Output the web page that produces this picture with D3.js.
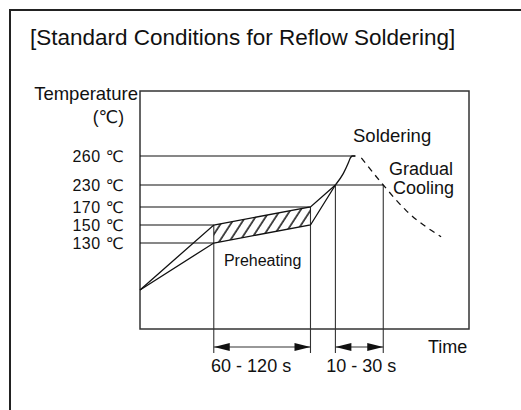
<!DOCTYPE html>
<head>
    <meta charset="utf-8">
    <title>Standard Conditions for Reflow Soldering</title>
    <script src="https://d3js.org/d3.v7.min.js"></script>
    <style>
        body { margin: 0; background: #fff; }
        text { font-family: "Liberation Sans", Arial, "DejaVu Sans", sans-serif; fill: #111; }
    </style>
</head>
<body>
    <div id="container"></div>
    <script>
        //----------------------------DATA----------------------------//
        var tempTicks = [130, 150, 170, 230, 260];
        var tempLabels = ["130 ℃", "150 ℃", "170 ℃", "230 ℃", "260 ℃"];
        var guideEnds = [74, 74, 171, 244, 216];          // time where each guide line stops
        var phaseTimes = [74, 171, 196, 244];             // preheat start / end, 230 reached / left
        var phaseTemps = [150, 170, 230, 230];            // top of each vertical marker
        var upperProfile = [[0, 25], [74, 150], [171, 170], [196, 230]];
        var lowerProfile = [[0, 25], [74, 130], [171, 150], [196, 230]];
        var peakProfile = [[196, 230], [204, 242], [209, 253], [211, 258], [213, 260], [216, 260]];
        var coolingProfile = [[222, 258], [244, 230], [267, 166], [302, 137]];
        var spans = [
            { from: 74, to: 171, label: "60 - 120 s" },
            { from: 196, to: 244, label: "10 - 30 s" }
        ];

        //----------------------------SVG-----------------------------//
        var W = 521, H = 410;
        var svg = d3.select("#container").append("svg")
            .attr("width", W).attr("height", H);

        // outer frame runs off the right and bottom edge
        svg.append("rect")
            .attr("x", 10).attr("y", 10).attr("width", 530).attr("height", 430)
            .attr("fill", "none").attr("stroke", "#222").attr("stroke-width", 2);

        svg.append("text")
            .attr("x", 30).attr("y", 45)
            .style("font-size", "22.5px")
            .text("[Standard Conditions for Reflow Soldering]");

        //---------------------------SCALES---------------------------//
        // schematic axis: temperature bands are not evenly spaced
        var x = d3.scaleLinear().domain([0, 330]).range([140, 469]);
        var y = d3.scaleLinear()
            .domain([0, 25, 130, 150, 170, 230, 260, 300])
            .range([329, 290, 243, 225, 207, 185, 156, 91]);

        var defs = svg.append("defs");
        var pat = defs.append("pattern")
            .attr("id", "hatch")
            .attr("patternUnits", "userSpaceOnUse")
            .attr("width", 8.5).attr("height", 8.5)
            .attr("patternTransform", "rotate(33)");
        pat.append("line")
            .attr("x1", 1).attr("y1", 0).attr("x2", 1).attr("y2", 8.5)
            .attr("stroke", "#000").attr("stroke-width", 1.4);

        ["arrowStart", "arrowEnd"].forEach(function (id, i) {
            defs.append("marker")
                .attr("id", id)
                .attr("markerUnits", "userSpaceOnUse")
                .attr("markerWidth", 17).attr("markerHeight", 10)
                .attr("refX", i ? 16 : 0).attr("refY", 5)
                .attr("orient", "auto")
                .append("path")
                .attr("d", i ? "M0,1L16,5L0,9Z" : "M16,1L0,5L16,9Z")
                .attr("fill", "#111");
        });

        //---------------------------FRAME----------------------------//
        svg.append("rect")
            .attr("x", x(0)).attr("y", y(300))
            .attr("width", x(330) - x(0)).attr("height", y(0) - y(300))
            .attr("fill", "none").attr("stroke", "#333").attr("stroke-width", 1.5);

        // temperature labels
        var yaxis = d3.axisLeft(y)
            .tickValues(tempTicks)
            .tickSize(0)
            .tickPadding(16)
            .tickFormat(function (d, i) { return tempLabels[i]; });
        var ga = svg.append("g")
            .attr("transform", "translate(" + x(0) + ",0)")
            .call(yaxis);
        ga.select(".domain").remove();
        ga.selectAll("text")
            .attr("dy", "0.36em")
            .style("font-size", "16px")
            .style("letter-spacing", "0.5px")
            .style("font-family", "'Liberation Sans', Arial, 'DejaVu Sans', sans-serif")
            .attr("fill", "#111");

        svg.append("text")
            .attr("x", 138).attr("y", 100)
            .attr("text-anchor", "end")
            .style("font-size", "18.5px")
            .text("Temperature");
        svg.append("text")
            .attr("x", 124).attr("y", 123)
            .attr("text-anchor", "end")
            .style("font-size", "17.5px")
            .text("(℃)");

        //---------------------------GUIDES---------------------------//
        svg.selectAll(".guide")
            .data(tempTicks)
            .enter().append("line")
            .attr("class", "guide")
            .attr("x1", x(0))
            .attr("x2", function (d, i) { return x(guideEnds[i]); })
            .attr("y1", function (d) { return y(d); })
            .attr("y2", function (d) { return y(d); })
            .attr("stroke", "#111").attr("stroke-width", 1.1);

        svg.selectAll(".phase")
            .data(phaseTimes)
            .enter().append("line")
            .attr("class", "phase")
            .attr("x1", function (d) { return x(d); })
            .attr("x2", function (d) { return x(d); })
            .attr("y1", function (d, i) { return y(phaseTemps[i]); })
            .attr("y2", y(0) + 24)
            .attr("stroke", "#333").attr("stroke-width", 1.1);

        //---------------------------PROFILE--------------------------//
        var hatchData = [1, 2].map(function (i) {
            return [upperProfile[i][0], upperProfile[i][1], lowerProfile[i][1]];
        });
        svg.append("path")
            .datum(hatchData)
            .attr("d", d3.area()
                .x(function (d) { return x(d[0]); })
                .y0(function (d) { return y(d[2]); })
                .y1(function (d) { return y(d[1]); }))
            .attr("fill", "url(#hatch)");

        var line = d3.line()
            .x(function (d) { return x(d[0]); })
            .y(function (d) { return y(d[1]); });

        [upperProfile, lowerProfile].forEach(function (p) {
            svg.append("path")
                .attr("d", line(p))
                .attr("fill", "none").attr("stroke", "#111").attr("stroke-width", 1.3);
        });

        svg.append("path")
            .attr("d", line.curve(d3.curveMonotoneX)(peakProfile))
            .attr("fill", "none").attr("stroke", "#111").attr("stroke-width", 1.3);

        svg.append("path")
            .attr("d", line.curve(d3.curveMonotoneX)(coolingProfile))
            .attr("fill", "none").attr("stroke", "#111").attr("stroke-width", 1.3)
            .attr("stroke-dasharray", "6,5");

        //----------------------------SPANS---------------------------//
        var ay = y(0) + 18;
        var labelShift = [-11, 2];
        spans.forEach(function (s, i) {
            svg.append("line")
                .attr("x1", x(s.from)).attr("x2", x(s.to))
                .attr("y1", ay).attr("y2", ay)
                .attr("stroke", "#333").attr("stroke-width", 1.2)
                .attr("marker-start", "url(#arrowStart)")
                .attr("marker-end", "url(#arrowEnd)");
            svg.append("text")
                .attr("x", (x(s.from) + x(s.to)) / 2 + labelShift[i])
                .attr("y", ay + 25)
                .attr("text-anchor", "middle")
                .style("font-size", "18px")
                .text(s.label);
        });

        //----------------------------LABELS--------------------------//
        svg.append("text").attr("x", x(123)).attr("y", 266)
            .attr("text-anchor", "middle").style("font-size", "16px").text("Preheating");
        svg.append("text").attr("x", 353).attr("y", 142)
            .style("font-size", "18.5px").text("Soldering");
        svg.append("text").attr("x", 389).attr("y", 175)
            .style("font-size", "18px").text("Gradual");
        svg.append("text").attr("x", 393).attr("y", 194)
            .style("font-size", "18px").text("Cooling");
        svg.append("text").attr("x", 428).attr("y", 353)
            .style("font-size", "18px").text("Time");
    </script>
</body>
